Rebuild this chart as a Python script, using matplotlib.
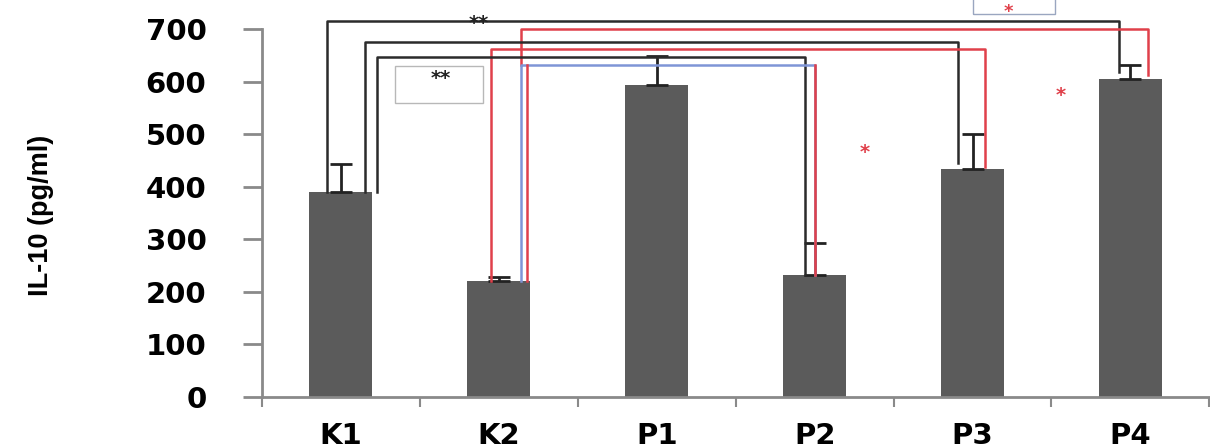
import matplotlib
matplotlib.use("Agg")
import matplotlib.pyplot as plt
from matplotlib.patches import Rectangle

groups = ["K1", "K2", "P1", "P2", "P3", "P4"]
il10_mean = [390, 221, 594, 233, 434, 605]
il10_sd = [53, 7, 54, 60, 66, 26]

# significance brackets: colour, x left, x right, bar level, left foot, right foot
brackets = [
    ("#2b2b2b", -0.09, 4.93, 716, 390, 619),
    ("#e0404a", 1.14, 5.11, 701, 632, 613),
    ("#2b2b2b", 0.15, 3.91, 676, 390, 446),
    ("#e0404a", 0.95, 4.08, 663, 221, 438),
    ("#2b2b2b", 0.23, 2.94, 646, 390, 233),
    ("#7f95d6", 1.14, 3.00, 632, 221, 233),
]
red_stars = [(3.32, 465), (4.56, 573)]

BAR = "#5b5b5b"
AXIS = "#8a8a8a"

fig = plt.figure(figsize=(12.1, 4.48), dpi=100)
ax = fig.add_axes([0.2165, 0.114, 0.783, 0.821])

x = list(range(len(groups)))
ax.bar(x, il10_mean, width=0.4, color=BAR, zorder=2)
ax.errorbar(x, il10_mean, yerr=[[0] * len(x), il10_sd], fmt="none",
            ecolor="#222222", elinewidth=2, capsize=8, capthick=2, zorder=3)

for color, x0, x1, level, foot0, foot1 in brackets:
    ax.plot([x0, x0, x1, x1], [foot0, level, level, foot1], color=color,
            lw=1.8, clip_on=False, zorder=4)
# red foot continuing under the blue bracket at K2, red foot at P2
ax.plot([1.18, 1.18], [632, 221], color="#e0404a", lw=1.8, zorder=4)
ax.plot([3.0, 3.0], [632, 233], color="#e0404a", lw=1.8, zorder=4)

# "**" boxes and markers
ax.add_patch(Rectangle((0.34, 560), 0.56, 69, fill=False, ec="#b8b8b8",
                       lw=1, zorder=4))
ax.text(0.63, 606, "**", ha="center", va="center", fontsize=14,
        fontweight="bold", color="#222222", zorder=5)
ax.text(0.87, 710, "**", ha="center", va="center", fontsize=14,
        fontweight="bold", color="#222222", zorder=5)
ax.add_patch(Rectangle((4.0, 728), 0.52, 60, fill=False, ec="#9aa6c0",
                       lw=1, clip_on=False, zorder=4))
ax.text(4.23, 733, "*", ha="center", va="center", fontsize=13,
        fontweight="bold", color="#e0404a", clip_on=False, zorder=5)
for sx, sy in red_stars:
    ax.text(sx, sy, "*", ha="center", va="center", fontsize=14,
            fontweight="bold", color="#e0404a", zorder=5)

ax.set_xlim(-0.5, 5.5)
ax.set_ylim(0, 700)
ax.set_yticks(range(0, 701, 100))
ax.set_xticks(x)
ax.set_xticklabels(groups)
ax.set_xticks([i + 0.5 for i in range(-1, len(groups))], minor=True)

for side in ("top", "right"):
    ax.spines[side].set_visible(False)
for side in ("left", "bottom"):
    ax.spines[side].set_color(AXIS)
    ax.spines[side].set_linewidth(2)

ax.tick_params(axis="y", direction="out", length=14, width=2, color=AXIS,
               pad=26, labelsize=21)
ax.tick_params(axis="x", which="major", length=0, pad=18, labelsize=21)
ax.tick_params(axis="x", which="minor", direction="out", length=7, width=1.5,
               color=AXIS)
for lab in ax.get_xticklabels() + ax.get_yticklabels():
    lab.set_fontweight("bold")

fig.text(0.034, 0.52, "IL-10 (pg/ml)", rotation=90, ha="center", va="center",
         fontsize=19.5, fontweight="bold",
         family=["Liberation Sans", "DejaVu Sans"])

fig.savefig("out.png", dpi=100)
